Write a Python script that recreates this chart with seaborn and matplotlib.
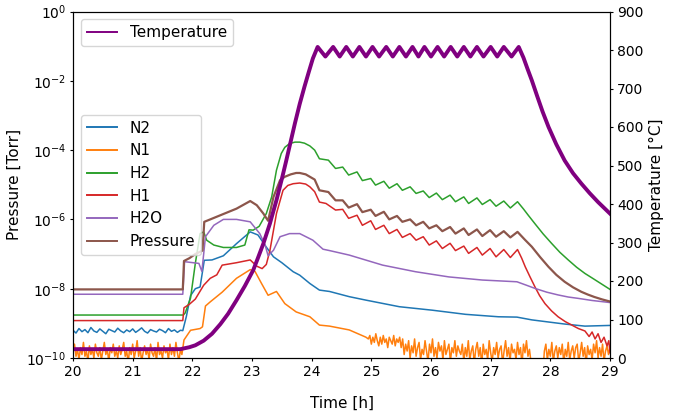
import numpy as np
import matplotlib
matplotlib.use("Agg")
import matplotlib.pyplot as plt
import seaborn as sns
from matplotlib.ticker import NullLocator
from matplotlib.lines import Line2D

# ---------------- data (log10 of pressure in Torr) ----------------
# N2: noisy baseline sampled every 0.05 h from 20.0, then the read curve
n2_base_log = [-9.2, -9.28, -9.15, -9.24, -9.18, -9.27, -9.12, -9.22, -9.26, -9.16, -9.23, -9.3,
               -9.17, -9.21, -9.25, -9.14, -9.22, -9.27, -9.19, -9.24, -9.16, -9.26, -9.2, -9.13,
               -9.23, -9.28, -9.18, -9.22, -9.25, -9.17, -9.21, -9.27, -9.15, -9.23, -9.19, -9.26, -9.2]
n2_t = [21.84, 21.90, 21.97, 22.05, 22.13, 22.20, 22.33, 22.52, 22.74, 22.97, 23.10,
        23.24, 23.36, 23.50, 23.69, 23.80, 23.97, 24.13, 24.30, 24.63, 24.91, 25.47, 26.02,
        26.58, 27.13, 27.44, 27.69, 28.24, 28.58, 29.0]
n2_log = [-9.21, -8.80, -8.20, -8.00, -7.95, -7.18, -7.17, -7.05, -6.70, -6.36, -6.45,
          -6.80, -7.08, -7.25, -7.51, -7.61, -7.85, -8.04, -8.08, -8.23, -8.33, -8.52, -8.62,
          -8.74, -8.81, -8.82, -8.90, -9.02, -9.08, -9.06]

# N1: noisy baseline sampled every 0.025 h from 20.0
n1_base_log = [-9.85, -9.6, -9.95, -9.75, -10.05, -9.7, -9.9, -9.55, -9.95, -9.8, -10.1, -9.65, -9.9, -9.75, -10.0, -9.6, -9.85, -9.95, -9.7, -10.05,
               -9.8, -9.55, -9.9, -9.75, -10.1, -9.7, -9.85, -9.6, -9.95, -9.8, -10.0, -9.65, -9.9, -9.75, -9.55, -9.95, -9.8, -10.15, -9.7, -9.9,
               -9.6, -10.0, -9.8, -9.5, -9.95, -9.7, -10.1, -9.85, -9.65, -9.9, -9.75, -10.05, -9.6, -9.85, -9.95, -9.7, -10.1, -9.55, -9.9, -9.8,
               -10.0, -9.65, -9.85, -9.75, -10.05, -9.6, -9.9, -9.7, -9.95, -9.55, -9.85, -10.1, -9.75, -9.9]
n1_mid_t = [21.86, 21.97, 22.13, 22.17, 22.22, 22.30, 22.50, 22.74, 22.97, 23.05, 23.16, 23.27,
            23.41, 23.55, 23.74, 23.97, 24.13, 24.30, 24.63, 24.91]
n1_mid_log = [-9.48, -9.20, -9.15, -9.10, -8.50, -8.38, -8.10, -7.70, -7.45, -7.50, -7.85, -8.19,
              -8.08, -8.43, -8.67, -8.81, -9.05, -9.08, -9.19, -9.40]
# N1: noisy tail sampled every 0.025 h from 24.95
n1_tail_log = [-9.45, -9.35, -9.6, -9.4, -9.55, -9.3, -9.5, -9.65, -9.4, -9.6, -9.35, -9.55, -9.45, -9.7, -9.4, -9.5, -9.6, -9.35, -9.65, -9.45, -9.55, -9.4,
               -9.7, -9.45, -9.9, -9.6, -9.8, -9.5, -10.0, -9.65, -9.85, -9.45, -9.95, -9.7, -9.55, -10.05, -9.75, -9.9, -9.5, -9.8, -10.1, -9.6,
               -9.85, -9.45, -9.95, -9.7, -10.0, -9.55, -9.8, -9.65, -10.05, -9.5, -9.9, -9.75, -9.6, -10.1, -9.7, -9.85, -9.5, -9.95, -9.65, -9.8,
               -9.9, -9.6, -10.1, -9.7, -9.95, -9.5, -10.05, -9.8, -9.65, -10.15, -9.75, -9.55, -9.95, -9.7, -10.2, -9.6, -9.9, -9.75, -10.05, -9.5, -9.85, -10.1, -9.7, -9.9,
               -9.55, -10.0, -9.75, -9.65, -10.15, -9.8, -9.5, -9.95, -9.7, -10.1, -9.6, -9.85, -9.75, -10.05, -9.55, -9.9, -9.7, -10.2, -9.6, -9.85, -9.5, -9.95, -9.75, -10.1,
               -10.3, -10.4, -10.35, -10.5, -10.3, -10.45, -10.35, -10.4,
               -9.8, -9.6, -10.05, -9.75, -9.95, -9.55, -10.1, -9.8, -9.65, -10.0, -9.7, -9.9, -9.6, -10.15, -9.75, -9.95, -9.55, -10.05, -9.8, -9.65, -10.0, -9.7, -9.6,
               -10.1, -9.85, -9.55, -9.95, -9.7, -10.2, -9.65, -9.9, -9.75, -10.05, -9.6, -9.85, -9.5, -10.0, -9.7, -9.95, -9.6, -10.1, -9.8, -9.65, -9.9, -9.7]

h2_t = [20.0, 21.85, 21.88, 21.97, 22.05, 22.13, 22.19, 22.24, 22.36, 22.52, 22.74, 22.88,
        22.95, 23.02, 23.12, 23.24, 23.33, 23.41, 23.49, 23.55, 23.63, 23.72, 23.80, 23.88, 23.97, 24.05, 24.13,
        24.28, 24.40, 24.52, 24.62, 24.76, 24.85, 24.99, 25.07, 25.21, 25.30, 25.43, 25.52,
        25.65, 25.75, 25.87, 25.97, 26.09, 26.19, 26.32, 26.41, 26.55, 26.63, 26.77, 26.86,
        26.99, 27.09, 27.22, 27.33, 27.45, 27.55, 27.63, 27.74, 27.88, 28.02, 28.16, 28.30,
        28.44, 28.58, 28.70, 28.80, 28.90, 29.0]
h2_log = [-8.76, -8.76, -8.70, -8.27, -7.27, -6.41, -6.36, -6.60, -6.74, -6.81, -6.81, -6.74,
          -6.30, -6.31, -6.20, -5.83, -5.35, -4.58, -4.10, -3.92, -3.81, -3.77, -3.77, -3.80, -3.88, -4.00, -4.25,
          -4.29, -4.53, -4.49, -4.72, -4.63, -4.88, -4.82, -5.01, -4.90, -5.10, -4.97, -5.16,
          -5.06, -5.25, -5.18, -5.37, -5.24, -5.43, -5.30, -5.49, -5.35, -5.54, -5.38, -5.57,
          -5.43, -5.62, -5.47, -5.67, -5.49, -5.70, -5.88, -6.12, -6.42, -6.69, -6.95, -7.17,
          -7.38, -7.56, -7.69, -7.80, -7.91, -8.02]

h1_t = [20.0, 21.84, 21.86, 21.95, 22.05, 22.19, 22.30, 22.41, 22.50, 22.74, 22.97, 23.08,
        23.17, 23.24, 23.30, 23.41, 23.52, 23.60, 23.69, 23.80, 23.90, 23.97, 24.05, 24.13, 24.24, 24.40,
        24.52, 24.62, 24.76, 24.85, 24.99, 25.07, 25.21, 25.30, 25.43, 25.52, 25.65, 25.75,
        25.87, 25.97, 26.09, 26.19, 26.32, 26.41, 26.55, 26.63, 26.77, 26.86, 26.99, 27.09,
        27.22, 27.33, 27.45, 27.52, 27.58, 27.66, 27.74, 27.82, 27.91, 28.02, 28.13, 28.25,
        28.36, 28.47, 28.58, 28.65, 28.70, 28.75, 28.80, 28.85, 28.90, 28.95, 28.98, 29.0]
h1_log = [-8.92, -8.92, -8.55, -8.45, -8.30, -7.90, -7.70, -7.60, -7.32, -7.25, -7.17, -7.35,
          -7.42, -7.30, -6.90, -5.83, -5.16, -5.02, -4.97, -4.95, -4.98, -5.06, -5.20, -5.50, -5.54, -5.73,
          -5.71, -5.97, -5.88, -6.17, -6.04, -6.29, -6.17, -6.41, -6.29, -6.52, -6.41, -6.60,
          -6.50, -6.74, -6.62, -6.84, -6.69, -6.90, -6.77, -6.98, -6.81, -7.03, -6.84, -7.08,
          -6.87, -7.10, -6.87, -7.12, -7.37, -7.66, -7.94, -8.20, -8.43, -8.64, -8.81, -8.95,
          -9.05, -9.15, -9.22, -9.38, -9.25, -9.45, -9.30, -9.55, -9.40, -9.65, -9.50, -9.85]

h2o_t = [20.0, 21.84, 21.87, 22.11, 22.16, 22.22, 22.36, 22.52, 22.74, 22.97, 23.13, 23.22,
         23.27, 23.36, 23.47, 23.63, 23.80, 24.02, 24.19, 24.30, 24.63, 25.19, 25.74, 26.30,
         26.86, 27.44, 27.60, 27.74, 27.94, 28.13, 28.30, 28.47, 28.70, 29.0]
h2o_log = [-8.16, -8.16, -7.22, -7.27, -7.50, -6.50, -6.17, -6.00, -6.00, -6.07, -6.41, -6.74,
           -7.05, -6.89, -6.50, -6.41, -6.41, -6.60, -6.86, -6.90, -7.03, -7.32, -7.51, -7.66,
           -7.75, -7.80, -7.90, -7.99, -8.10, -8.18, -8.24, -8.28, -8.34, -8.40]

p_t = [20.0, 21.84, 21.86, 21.95, 22.05, 22.17, 22.20, 22.30, 22.47, 22.74, 22.97, 23.08,
       23.19, 23.27, 23.36, 23.47, 23.55, 23.65, 23.74, 23.80, 23.90, 23.97, 24.05, 24.13, 24.28, 24.40,
       24.52, 24.62, 24.76, 24.85, 24.99, 25.07, 25.21, 25.30, 25.43, 25.52, 25.65, 25.75,
       25.87, 25.97, 26.09, 26.19, 26.32, 26.41, 26.55, 26.63, 26.77, 26.86, 26.99, 27.09,
       27.22, 27.33, 27.45, 27.57, 27.69, 27.83, 27.97, 28.10, 28.24, 28.38, 28.52, 28.63,
       28.74, 28.87, 29.0]
p_log = [-8.02, -8.02, -7.20, -7.12, -7.00, -6.90, -6.07, -6.00, -5.88, -5.69, -5.47, -5.59,
         -5.83, -6.04, -5.35, -4.87, -4.77, -4.70, -4.66, -4.66, -4.70, -4.77, -4.85, -5.16, -5.21, -5.45,
         -5.45, -5.66, -5.56, -5.79, -5.72, -5.90, -5.78, -6.00, -5.90, -6.07, -6.00, -6.17,
         -6.07, -6.26, -6.17, -6.34, -6.22, -6.41, -6.26, -6.45, -6.29, -6.48, -6.31, -6.50,
         -6.34, -6.52, -6.36, -6.58, -6.79, -7.09, -7.37, -7.60, -7.80, -7.96, -8.09, -8.17,
         -8.24, -8.31, -8.37]

temp_t = [20.0, 21.80, 21.86, 21.95, 22.05, 22.19, 22.33, 22.47, 22.60, 22.74, 22.88, 23.02,
          23.10, 23.19, 23.30, 23.41, 23.50, 23.57, 23.63, 23.72, 23.80, 23.88, 23.95, 24.02,
          24.10, 24.23, 24.36, 24.47, 24.58, 24.69, 24.80, 24.91, 25.02,
          25.13, 25.25, 25.36, 25.47, 25.58, 25.69, 25.79, 25.89, 26.00, 26.11, 26.22, 26.33,
          26.44, 26.55, 26.66, 26.77, 26.88, 27.00, 27.11, 27.22, 27.35, 27.47, 27.55, 27.62,
          27.69, 27.78, 27.87, 27.97, 28.10, 28.24, 28.38, 28.52, 28.66, 28.80, 28.90, 29.0]
temp_c = [23, 23, 25, 28, 33, 45, 63, 88, 115, 150, 187, 228,
          260, 297, 349, 410, 465, 510, 550, 610, 660, 705, 742, 778,
          808, 783, 808, 783, 808, 783, 808, 783, 808,
          783, 808, 783, 808, 783, 808, 783, 808, 783, 808, 783, 808,
          783, 808, 783, 808, 783, 808, 783, 808, 783, 808, 780, 750,
          721, 680, 640, 600, 555, 513, 480, 453, 428, 405, 390, 375]

n2_all_t = list(np.round(20.0 + 0.05 * np.arange(len(n2_base_log)), 3)) + n2_t
n2_all_log = n2_base_log + n2_log
n1_all_t = (list(np.round(20.0 + 0.025 * np.arange(len(n1_base_log)), 3)) + n1_mid_t
            + list(np.round(24.95 + 0.025 * np.arange(len(n1_tail_log)), 3)))
n1_all_log = n1_base_log + n1_mid_log + n1_tail_log

series = [
    ("N2", n2_all_t, n2_all_log, "#1f77b4", 1.1),
    ("N1", n1_all_t, n1_all_log, "#ff7f0e", 1.1),
    ("H2", h2_t, h2_log, "#2ca02c", 1.1),
    ("H1", h1_t, h1_log, "#d62728", 1.1),
    ("H2O", h2o_t, h2o_log, "#9467bd", 1.1),
    ("Pressure", p_t, p_log, "#8c564b", 1.6),
]

fig = plt.figure(figsize=(6.74, 4.16), dpi=100)
ax = fig.add_axes([73 / 674, 1 - 358 / 416, 537 / 674, 346.5 / 416])
ax.set_yscale("log")

for name, t, lg, col, lw in series:
    sns.lineplot(x=np.array(t), y=10.0 ** np.array(lg), ax=ax, color=col, lw=lw,
                 estimator=None, sort=False, legend=False)

ax.set_xlim(20, 29)
ax.set_ylim(1e-10, 1e0)
ax.set_xticks(range(20, 30))
ax.set_yticks([1e-10, 1e-8, 1e-6, 1e-4, 1e-2, 1e0])
ax.yaxis.set_minor_locator(NullLocator())
ax.tick_params(labelsize=10, length=2.5, pad=2.5)
ax.set_xlabel("Time [h]", fontsize=11, labelpad=12)
ax.set_ylabel("Pressure [Torr]", fontsize=11, labelpad=3)
handles1 = [Line2D([], [], color=col, lw=1.4) for _, _, _, col, _ in series]
ax.legend(handles1, [s[0] for s in series], loc="center left", fontsize=11)

ax2 = ax.twinx()
sns.lineplot(x=np.array(temp_t), y=np.array(temp_c), ax=ax2, color="#800080", lw=2.8,
             estimator=None, sort=False, legend=False)
ax2.set_ylim(0, 900)
ax2.set_yticks(range(0, 901, 100))
ax2.tick_params(labelsize=10, length=2.5, pad=2.5)
ax2.set_ylabel("Temperature [°C]", fontsize=11)
ax2.legend([Line2D([], [], color="#800080", lw=1.4)], ["Temperature"],
           loc="upper left", fontsize=11)

fig.savefig("out.png", dpi=100)
